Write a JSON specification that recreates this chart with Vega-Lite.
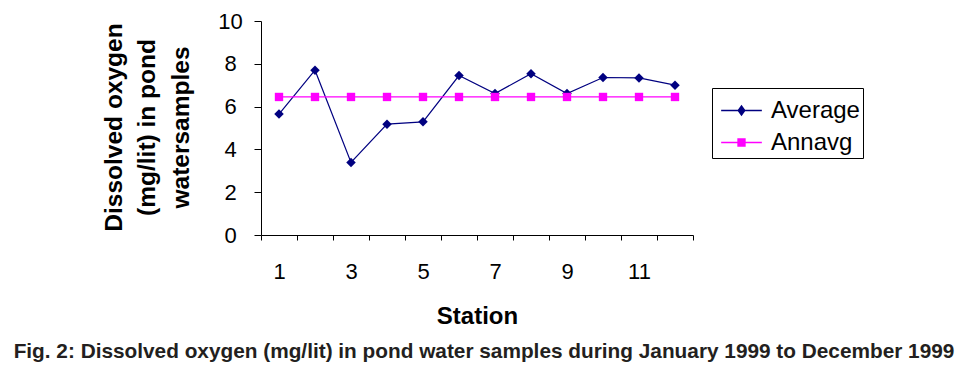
{
  "$schema": "https://vega.github.io/schema/vega-lite/v6.json",
  "width": 432,
  "height": 214,
  "autosize": {"type": "none"},
  "padding": {"left": 261, "top": 21, "right": 275, "bottom": 133},
  "background": "white",
  "config": {
    "view": {"stroke": null},
    "font": "Liberation Sans"
  },
  "title": {
    "text": "Fig. 2: Dissolved oxygen (mg/lit) in pond water samples during January 1999 to December 1999",
    "orient": "bottom",
    "anchor": "middle",
    "frame": "group",
    "font": "Liberation Sans",
    "fontSize": 20.8,
    "fontWeight": "bold",
    "color": "#231f20",
    "offset": 14,
    "dx": 7
  },
  "data": {
    "values": [
      {"station": 1, "series": "Average", "value": 5.65},
      {"station": 2, "series": "Average", "value": 7.7},
      {"station": 3, "series": "Average", "value": 3.39},
      {"station": 4, "series": "Average", "value": 5.18},
      {"station": 5, "series": "Average", "value": 5.29},
      {"station": 6, "series": "Average", "value": 7.45},
      {"station": 7, "series": "Average", "value": 6.61},
      {"station": 8, "series": "Average", "value": 7.54},
      {"station": 9, "series": "Average", "value": 6.61},
      {"station": 10, "series": "Average", "value": 7.36},
      {"station": 11, "series": "Average", "value": 7.34},
      {"station": 12, "series": "Average", "value": 7.0},
      {"station": 1, "series": "Annavg", "value": 6.45},
      {"station": 2, "series": "Annavg", "value": 6.45},
      {"station": 3, "series": "Annavg", "value": 6.45},
      {"station": 4, "series": "Annavg", "value": 6.45},
      {"station": 5, "series": "Annavg", "value": 6.45},
      {"station": 6, "series": "Annavg", "value": 6.45},
      {"station": 7, "series": "Annavg", "value": 6.45},
      {"station": 8, "series": "Annavg", "value": 6.45},
      {"station": 9, "series": "Annavg", "value": 6.45},
      {"station": 10, "series": "Annavg", "value": 6.45},
      {"station": 11, "series": "Annavg", "value": 6.45},
      {"station": 12, "series": "Annavg", "value": 6.45}
    ]
  },
  "encoding": {
    "x": {
      "field": "station",
      "type": "ordinal",
      "bandPosition": 0.5,
      "scale": {"type": "band", "paddingInner": 0, "paddingOuter": 0},
      "axis": {
        "title": "Station",
        "titleFont": "Liberation Sans",
        "titleFontSize": 24,
        "titleFontWeight": "bold",
        "titleColor": "black",
        "titlePadding": 22,
        "labelAngle": 0,
        "labelFontSize": 22,
        "labelColor": "black",
        "labelPadding": 21,
        "labelExpr": "datum.value % 2 == 1 ? datum.label : ''",
        "tickBand": "extent",
        "tickSize": 5,
        "tickColor": "black",
        "domainColor": "black",
        "grid": false
      }
    },
    "y": {
      "field": "value",
      "type": "quantitative",
      "scale": {"domain": [0, 10], "nice": false},
      "axis": {
        "values": [0, 2, 4, 6, 8, 10],
        "title": ["Dissolved oxygen", "(mg/lit) in pond", "watersamples"],
        "titleFont": "Liberation Sans",
        "titleFontSize": 24.5,
        "titleFontWeight": "bold",
        "titleColor": "black",
        "titleLineHeight": 33.5,
        "titleAlign": "center",
        "titleBaseline": "middle",
        "titleX": -147,
        "titleY": 106,
        "labelFontSize": 22,
        "labelColor": "black",
        "labelAlign": "center",
        "labelPadding": 24,
        "tickSize": 7,
        "tickColor": "black",
        "domainColor": "black",
        "grid": false
      }
    }
  },
  "layer": [
    {
      "mark": {"type": "line", "strokeWidth": 1.2},
      "encoding": {
        "color": {
          "field": "series",
          "type": "nominal",
          "scale": {"domain": ["Average", "Annavg"], "range": ["#000080", "#FF00FF"]},
          "legend": {
            "title": null,
            "orient": "none",
            "legendX": 451,
            "legendY": 67,
            "strokeColor": "black",
            "fillColor": "white",
            "padding": 3,
            "symbolOffset": 7,
            "symbolSize": 1369,
            "symbolStrokeWidth": 1.3,
            "labelFont": "Liberation Sans",
            "labelFontSize": 24,
            "labelColor": "black",
            "labelOffset": 10,
            "rowPadding": 0,
            "encode": {
              "symbols": {
                "update": {
                  "shape": {"signal": "datum.value === 'Average' ? 'M-1.1,0H1.1M0,-0.25L0.18,0L0,0.25L-0.18,0Z' : 'M-1.1,0H1.1M-0.19,-0.19H0.19V0.19H-0.19Z'"},
                  "fill": {"signal": "datum.value === 'Average' ? '#000080' : '#FF00FF'"},
                  "fillOpacity": {"value": 1}
                }
              }
            }
          }
        }
      }
    },
    {
      "transform": [{"filter": "datum.series === 'Average'"}],
      "mark": {"type": "point", "filled": true, "opacity": 1, "shape": "diamond", "size": 90, "color": "#000080"}
    },
    {
      "transform": [{"filter": "datum.series === 'Annavg'"}],
      "mark": {"type": "point", "filled": true, "opacity": 1, "shape": "square", "size": 70, "color": "#FF00FF"}
    }
  ]
}
